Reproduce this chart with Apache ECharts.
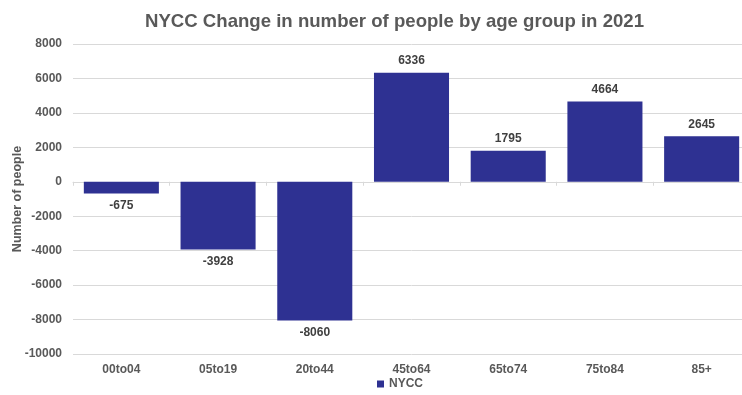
<!DOCTYPE html>
<html><head><meta charset="utf-8">
<script src="https://cdn.jsdelivr.net/npm/echarts@6/dist/echarts.min.js"></script>
<style>html,body{margin:0;padding:0;background:#fff;overflow:hidden}#c{width:751px;height:395px}</style>
</head><body><div id="c"></div>
<script>
const categories = ['00to04','05to19','20to44','45to64','65to74','75to84','85+'];
const values = [-675,-3928,-8060,6336,1795,4664,2645];
const seriesName = 'NYCC';
const titleText = 'NYCC Change in number of people by age group in 2021';
const yAxisName = 'Number of people';

const chart = echarts.init(document.getElementById('c'));
const font = 'Liberation Sans, Arial, sans-serif';
chart.setOption({
  animation:false,
  title:{text:titleText,left:140,top:7,textStyle:{fontFamily:font,fontSize:18.6,fontWeight:'bold',color:'#595959'}},
  legend:{bottom:0,left:372,itemWidth:7,itemHeight:7,icon:'rect',itemGap:4,
    textStyle:{fontFamily:font,fontSize:12,fontWeight:'bold',color:'#595959'},data:[seriesName]},
  grid:{left:73,right:1,top:44,bottom:41,outerBoundsMode:'none'},
  xAxis:[{type:'category',data:categories,position:'bottom',
    axisLine:{onZero:true,lineStyle:{color:'#d9d9d9'}},axisTick:{show:true,length:4,lineStyle:{color:'#d9d9d9'}},
    axisLabel:{show:false}},
   {type:'category',data:categories,position:'bottom',
    axisLine:{show:false},axisTick:{show:false},
    axisLabel:{margin:10,fontFamily:font,fontSize:12,fontWeight:'bold',color:'#595959'}}],
  yAxis:{type:'value',min:-10000,max:8000,interval:2000,name:yAxisName,nameLocation:'middle',nameGap:49,
    nameMoveOverlap:false,
    nameTextStyle:{fontFamily:font,fontSize:12.5,fontWeight:'bold',color:'#595959'},
    axisLine:{show:false},axisTick:{show:false},
    axisLabel:{margin:11,fontFamily:font,fontSize:12,fontWeight:'bold',color:'#595959',formatter:v=>String(v)},
    splitLine:{lineStyle:{color:'#d9d9d9'}}},
  series:[{name:seriesName,type:'bar',data:values,barCategoryGap:'22.4%',
    itemStyle:{color:'#2E3192'},
    label:{show:true,position:'outside',distance:6,fontFamily:font,fontSize:12,fontWeight:'bold',color:'#404040'}}]
});
</script></body></html>
